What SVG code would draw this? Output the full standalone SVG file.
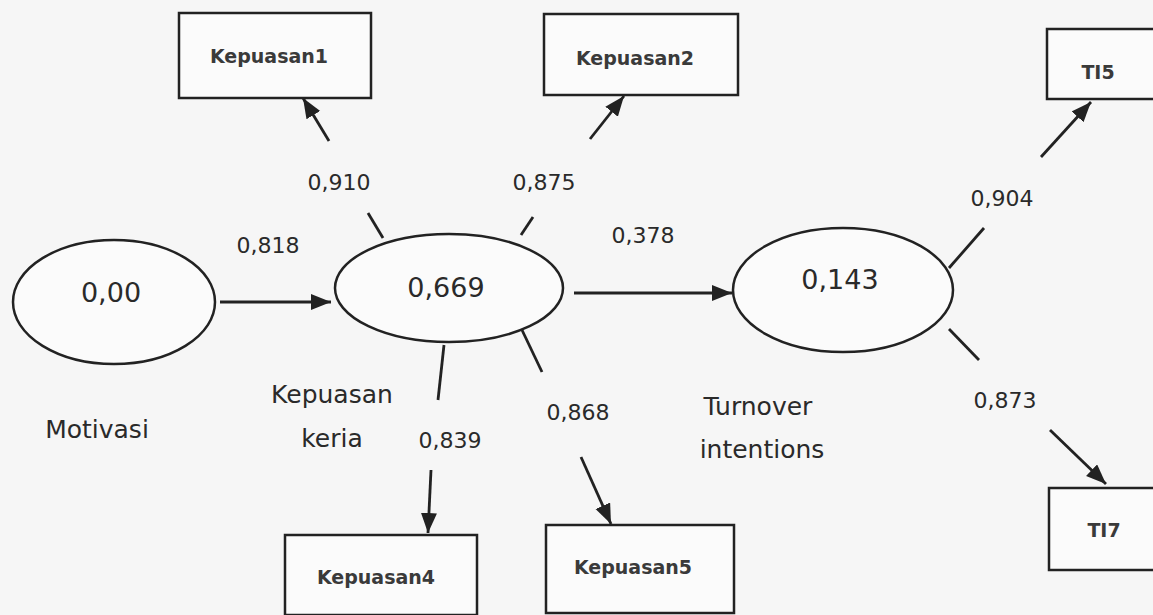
<svg xmlns="http://www.w3.org/2000/svg" width="1153" height="615" viewBox="0 0 1153 615">
<style>
.bg{fill:#f6f6f6}
.box{fill:#fbfbfb;stroke:#222;stroke-width:2.5}
.ell{fill:#fbfbfb;stroke:#222;stroke-width:2.5}
.ln{stroke:#222;stroke-width:2.8;fill:none}
.t{font-family:"DejaVu Sans","Liberation Sans",sans-serif;fill:#2a2a2a;text-anchor:middle}
.bl{font-size:19px;font-weight:bold;fill:#3a3a3a}
.num{font-size:22px}
.big{font-size:27px}
.lab{font-size:25px}
</style>
<defs>
<marker id="ah" markerUnits="userSpaceOnUse" markerWidth="22" markerHeight="18" refX="20" refY="8" orient="auto">
<path d="M0,0 L20,8 L0,16 z" fill="#222"/>
</marker>
</defs>
<rect class="bg" x="0" y="0" width="1153" height="615"/>

<g id="connectors">
<line class="ln" x1="220" y1="302" x2="331" y2="302" marker-end="url(#ah)"/>
<line class="ln" x1="574" y1="293" x2="732" y2="293" marker-end="url(#ah)"/>
<line class="ln" x1="383" y1="238" x2="368" y2="213"/>
<line class="ln" x1="329" y1="141" x2="303" y2="98" marker-end="url(#ah)"/>
<line class="ln" x1="521" y1="235" x2="533" y2="217"/>
<line class="ln" x1="590" y1="139" x2="624" y2="96" marker-end="url(#ah)"/>
<line class="ln" x1="444" y1="345" x2="438" y2="400"/>
<line class="ln" x1="431" y1="470" x2="428" y2="533" marker-end="url(#ah)"/>
<line class="ln" x1="522" y1="330" x2="542" y2="372"/>
<line class="ln" x1="581" y1="457" x2="611" y2="524" marker-end="url(#ah)"/>
<line class="ln" x1="949" y1="268" x2="984" y2="228"/>
<line class="ln" x1="1041" y1="157" x2="1091" y2="102" marker-end="url(#ah)"/>
<line class="ln" x1="949" y1="329" x2="979" y2="360"/>
<line class="ln" x1="1050" y1="430" x2="1106" y2="484" marker-end="url(#ah)"/>
</g>

<g id="motivasi">
<ellipse class="ell" cx="114" cy="302" rx="101" ry="62"/>
<text class="t big" x="111" y="302">0,00</text>
<text class="t lab" x="97" y="438">Motivasi</text>
</g>
<g id="kepuasan-kerja">
<ellipse class="ell" cx="449" cy="288" rx="114" ry="54"/>
<text class="t big" x="446" y="297">0,669</text>
<text class="t lab" x="332" y="403">Kepuasan</text>
<text class="t lab" x="332" y="447">keria</text>
</g>
<g id="turnover">
<ellipse class="ell" cx="843" cy="290" rx="110" ry="62"/>
<text class="t big" x="840" y="289">0,143</text>
<text class="t lab" x="758" y="415">Turnover</text>
<text class="t lab" x="762" y="458">intentions</text>
</g>
<g id="kepuasan1">
<rect class="box" x="179" y="13" width="192" height="85"/>
<text class="t bl" x="269" y="63">Kepuasan1</text>
</g>
<g id="kepuasan2">
<rect class="box" x="544" y="14" width="194" height="81"/>
<text class="t bl" x="635" y="65">Kepuasan2</text>
</g>
<g id="ti5">
<rect class="box" x="1047" y="29" width="110" height="70"/>
<text class="t bl" x="1098" y="79">TI5</text>
</g>
<g id="kepuasan4">
<rect class="box" x="285" y="535" width="192" height="80"/>
<text class="t bl" x="376" y="584">Kepuasan4</text>
</g>
<g id="kepuasan5">
<rect class="box" x="546" y="525" width="188" height="88"/>
<text class="t bl" x="633" y="574">Kepuasan5</text>
</g>
<g id="ti7">
<rect class="box" x="1049" y="488" width="110" height="82"/>
<text class="t bl" x="1104" y="537">TI7</text>
</g>
<g id="labels">
<text class="t num" x="339" y="190">0,910</text>
<text class="t num" x="544" y="190">0,875</text>
<text class="t num" x="268" y="253">0,818</text>
<text class="t num" x="643" y="243">0,378</text>
<text class="t num" x="1002" y="206">0,904</text>
<text class="t num" x="1005" y="408">0,873</text>
<text class="t num" x="578" y="420">0,868</text>
<text class="t num" x="450" y="448">0,839</text>
</g>
</svg>
